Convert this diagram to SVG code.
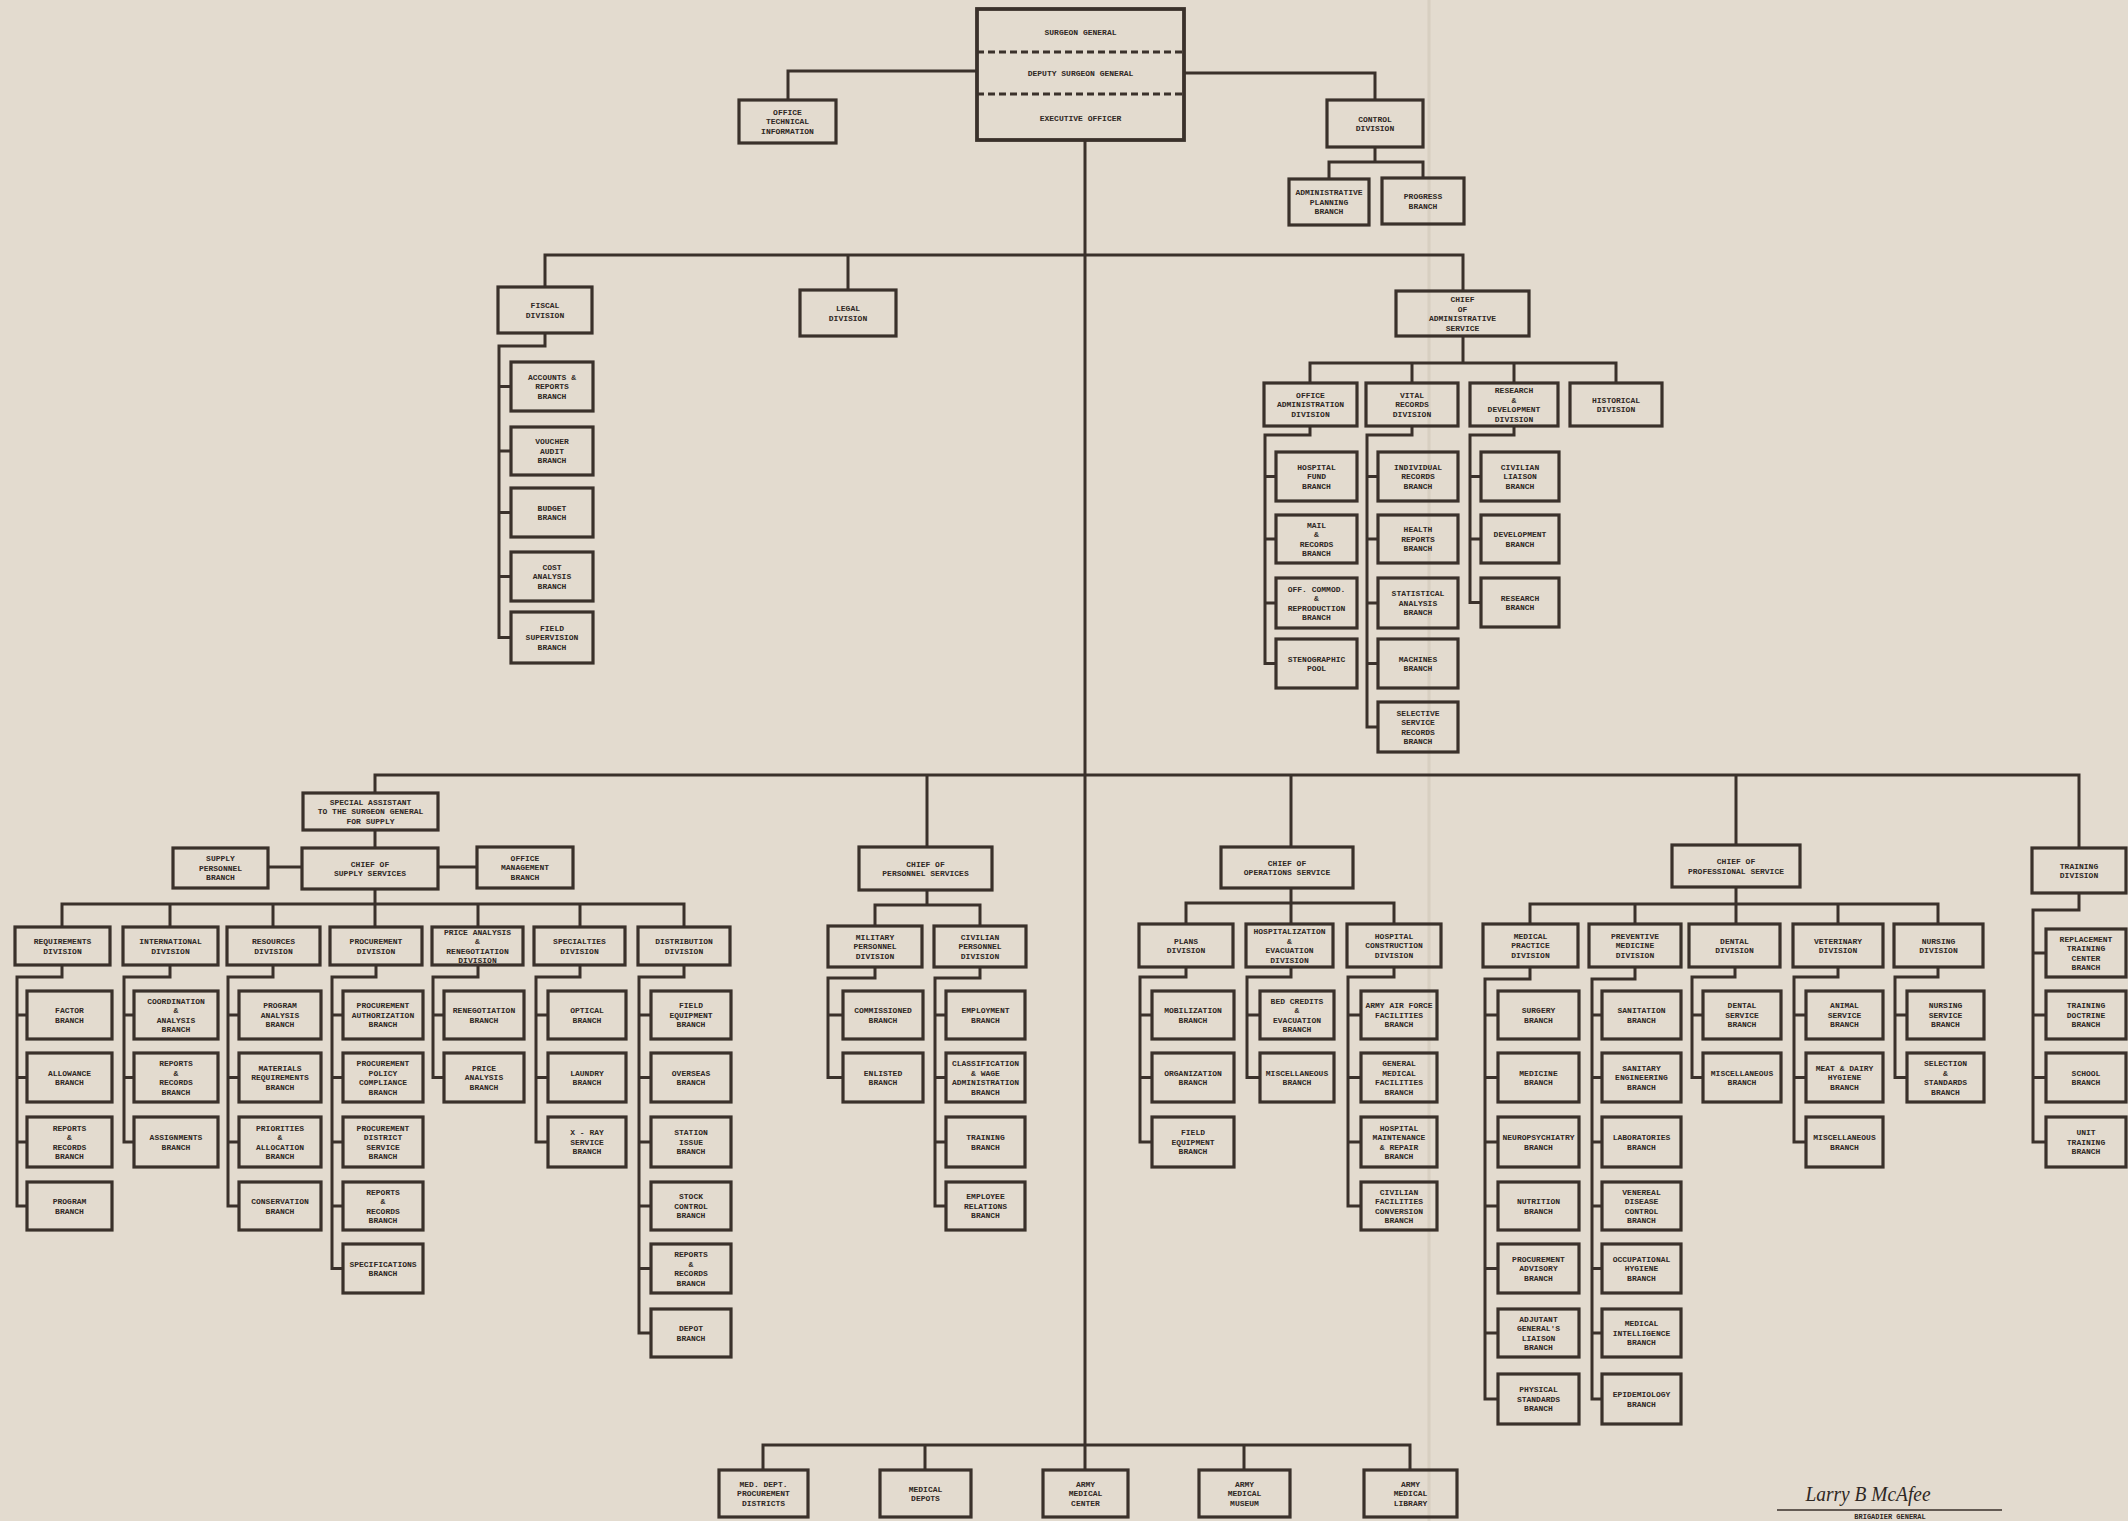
<svg xmlns="http://www.w3.org/2000/svg" width="2128" height="1521" viewBox="0 0 2128 1521">
<style>
.b{fill:none;stroke:#3a312b;stroke-width:3.2}
.c{fill:none;stroke:#3a312b;stroke-width:3}
.t{font-family:"Liberation Mono","DejaVu Sans Mono",monospace;font-size:8px;font-weight:700;fill:#2f2824;text-anchor:middle}
.sig{font-family:"Liberation Serif","DejaVu Serif",serif;font-style:italic;font-size:22px;fill:#2f2824;text-anchor:middle}
</style>
<rect x="0" y="0" width="2128" height="1521" fill="#e3dbcf"/>
<line x1="1429" y1="0" x2="1429" y2="1521" stroke="#d3cabc" stroke-width="3" opacity="0.7"/>

<g id="connectors">
<path class="c" d="M1085,140 V1470 M977,71 H788 V100 M1184,73 H1375 V100 M1375,147 V162 M1329,179 V162 H1423 V178"/>
<path class="c" d="M545,287 V255 H1463 V291 M848,255 V290 M545,333 V346 H499 V637.5 H511 M499,386.5 H511 M499,451 H511 M499,512.5 H511 M499,576.5 H511"/>
<path class="c" d="M1463,336 V363 M1310,383 V363 H1616 V383 M1412,363 V383 M1514,363 V383 M1310,426 V435 H1265 V663.5 H1276 M1265,476.5 H1276 M1265,539 H1276 M1265,603 H1276 M1412,426 V435 H1367 V727 H1378 M1367,476.5 H1378 M1367,539 H1378 M1367,603 H1378 M1367,663.5 H1378 M1514,426 V435 H1470 V602.5 H1481 M1470,476.5 H1481 M1470,539 H1481"/>
<path class="c" d="M375,793 V775 H2079 V848 M927,775 V847 M1291,775 V847 M1736,775 V845"/>
<path class="c" d="M375,830 V848 M268,867 H302 M438,867 H477 M375,889 V904 M62,927 V904 H684 V927 M170,904 V927 M273,904 V927 M375,904 V927 M478,904 V927 M580,904 V927"/>
<path class="c" d="M62,965 V977 H17 V1206 H27 M17,1015 H27 M17,1077.5 H27 M17,1142 H27 M170,965 V977 H124 V1142 H134 M124,1015 H134 M124,1077.5 H134 M273,965 V977 H228 V1206 H239 M228,1015 H239 M228,1077.5 H239 M228,1142 H239 M376,965 V977 H332 V1268.5 H343 M332,1015 H343 M332,1077.5 H343 M332,1142 H343 M332,1206 H343 M478,965 V977 H433 V1077.5 H444 M433,1015 H444 M580,965 V977 H536 V1142 H548 M536,1015 H548 M536,1077.5 H548 M684,965 V977 H639 V1333 H651 M639,1015 H651 M639,1077.5 H651 M639,1142 H651 M639,1206 H651 M639,1268.5 H651"/>
<path class="c" d="M927,890 V905 M875,926 V905 H980 V926 M875,967 V978 H828 V1077.5 H843 M828,1015 H843 M980,967 V978 H935 V1206 H946 M935,1015 H946 M935,1077.5 H946 M935,1142 H946"/>
<path class="c" d="M1291,888 V903 M1186,924 V903 H1394 V924 M1291,903 V924 M1186,967 V977 H1140 V1142 H1152 M1140,1015 H1152 M1140,1077.5 H1152 M1291,967 V977 H1247 V1077.5 H1260 M1247,1015 H1260 M1394,967 V977 H1348 V1206 H1361 M1348,1015 H1361 M1348,1077.5 H1361 M1348,1142 H1361"/>
<path class="c" d="M1736,887 V904 M1530,924 V904 H1938 V924 M1635,904 V924 M1736,904 V924 M1838,904 V924 M1530,967 V979 H1485 V1399 H1498 M1485,1015 H1498 M1485,1077.5 H1498 M1485,1142 H1498 M1485,1206 H1498 M1485,1268.5 H1498 M1485,1333 H1498 M1635,967 V979 H1592 V1399 H1602 M1592,1015 H1602 M1592,1077.5 H1602 M1592,1142 H1602 M1592,1206 H1602 M1592,1268.5 H1602 M1592,1333 H1602 M1735,967 V977 H1692 V1077.5 H1703 M1692,1015 H1703 M1838,967 V977 H1794 V1142 H1806 M1794,1015 H1806 M1794,1077.5 H1806 M1938,967 V977 H1895 V1077.5 H1907 M1895,1015 H1907"/>
<path class="c" d="M2079,893 V910 H2033 V1142 H2046 M2033,953 H2046 M2033,1015 H2046 M2033,1077.5 H2046"/>
<path class="c" d="M763,1470 V1445 H1410 V1470 M925,1445 V1470 M1244,1445 V1470"/>
</g>

<g id="surgeon-general"><rect x="977" y="9" width="207" height="131" fill="none" stroke="#3a312b" stroke-width="3.8"/>
<path d="M977,52 H1184 M977,94 H1184" stroke="#3a312b" stroke-width="3" stroke-dasharray="7,4"/>
<text class="t" x="1080.5" y="34.8">SURGEON GENERAL</text>
<text class="t" x="1080.5" y="75.8">DEPUTY SURGEON GENERAL</text>
<text class="t" x="1080.5" y="120.8">EXECUTIVE OFFICER</text></g>
<g id="office-technical-information"><rect class="b" x="739" y="100" width="97" height="43"/><text class="t" y="114.8"><tspan x="787.5">OFFICE</tspan><tspan x="787.5" dy="9.5">TECHNICAL</tspan><tspan x="787.5" dy="9.5">INFORMATION</tspan></text></g>
<g id="control-division"><rect class="b" x="1327" y="100" width="96" height="47"/><text class="t" y="121.6"><tspan x="1375">CONTROL</tspan><tspan x="1375" dy="9.5">DIVISION</tspan></text></g>
<g id="administrative-planning-branch"><rect class="b" x="1289" y="179" width="80" height="46"/><text class="t" y="195.3"><tspan x="1329">ADMINISTRATIVE</tspan><tspan x="1329" dy="9.5">PLANNING</tspan><tspan x="1329" dy="9.5">BRANCH</tspan></text></g>
<g id="progress-branch"><rect class="b" x="1382" y="178" width="82" height="46"/><text class="t" y="199.1"><tspan x="1423">PROGRESS</tspan><tspan x="1423" dy="9.5">BRANCH</tspan></text></g>

<g id="fiscal-division"><rect class="b" x="498" y="287" width="94" height="46"/><text class="t" y="308.1"><tspan x="545">FISCAL</tspan><tspan x="545" dy="9.5">DIVISION</tspan></text></g>
<g id="legal-division"><rect class="b" x="800" y="290" width="96" height="46"/><text class="t" y="311.1"><tspan x="848">LEGAL</tspan><tspan x="848" dy="9.5">DIVISION</tspan></text></g>
<g id="chief-administrative-service"><rect class="b" x="1396" y="291" width="133" height="45"/><text class="t" y="302.1"><tspan x="1462.5">CHIEF</tspan><tspan x="1462.5" dy="9.5">OF</tspan><tspan x="1462.5" dy="9.5">ADMINISTRATIVE</tspan><tspan x="1462.5" dy="9.5">SERVICE</tspan></text></g>
<g id="accounts-reports-branch"><rect class="b" x="511" y="362" width="82" height="49"/><text class="t" y="379.8"><tspan x="552">ACCOUNTS &amp;</tspan><tspan x="552" dy="9.5">REPORTS</tspan><tspan x="552" dy="9.5">BRANCH</tspan></text></g>
<g id="voucher-audit-branch"><rect class="b" x="511" y="427" width="82" height="48"/><text class="t" y="444.3"><tspan x="552">VOUCHER</tspan><tspan x="552" dy="9.5">AUDIT</tspan><tspan x="552" dy="9.5">BRANCH</tspan></text></g>
<g id="budget-branch"><rect class="b" x="511" y="488" width="82" height="49"/><text class="t" y="510.6"><tspan x="552">BUDGET</tspan><tspan x="552" dy="9.5">BRANCH</tspan></text></g>
<g id="cost-analysis-branch"><rect class="b" x="511" y="552" width="82" height="49"/><text class="t" y="569.8"><tspan x="552">COST</tspan><tspan x="552" dy="9.5">ANALYSIS</tspan><tspan x="552" dy="9.5">BRANCH</tspan></text></g>
<g id="field-supervision-branch"><rect class="b" x="511" y="612" width="82" height="51"/><text class="t" y="630.8"><tspan x="552">FIELD</tspan><tspan x="552" dy="9.5">SUPERVISION</tspan><tspan x="552" dy="9.5">BRANCH</tspan></text></g>

<g id="office-administration-division"><rect class="b" x="1264" y="383" width="93" height="43"/><text class="t" y="397.8"><tspan x="1310.5">OFFICE</tspan><tspan x="1310.5" dy="9.5">ADMINISTRATION</tspan><tspan x="1310.5" dy="9.5">DIVISION</tspan></text></g>
<g id="vital-records-division"><rect class="b" x="1366" y="383" width="92" height="43"/><text class="t" y="397.8"><tspan x="1412">VITAL</tspan><tspan x="1412" dy="9.5">RECORDS</tspan><tspan x="1412" dy="9.5">DIVISION</tspan></text></g>
<g id="research-development-division"><rect class="b" x="1470" y="383" width="88" height="43"/><text class="t" y="393.1"><tspan x="1514">RESEARCH</tspan><tspan x="1514" dy="9.5">&amp;</tspan><tspan x="1514" dy="9.5">DEVELOPMENT</tspan><tspan x="1514" dy="9.5">DIVISION</tspan></text></g>
<g id="historical-division"><rect class="b" x="1570" y="383" width="92" height="43"/><text class="t" y="402.6"><tspan x="1616">HISTORICAL</tspan><tspan x="1616" dy="9.5">DIVISION</tspan></text></g>
<g id="hospital-fund-branch"><rect class="b" x="1276" y="452" width="81" height="49"/><text class="t" y="469.8"><tspan x="1316.5">HOSPITAL</tspan><tspan x="1316.5" dy="9.5">FUND</tspan><tspan x="1316.5" dy="9.5">BRANCH</tspan></text></g>
<g id="mail-records-branch"><rect class="b" x="1276" y="515" width="81" height="48"/><text class="t" y="527.6"><tspan x="1316.5">MAIL</tspan><tspan x="1316.5" dy="9.5">&amp;</tspan><tspan x="1316.5" dy="9.5">RECORDS</tspan><tspan x="1316.5" dy="9.5">BRANCH</tspan></text></g>
<g id="off-commod-reproduction-branch"><rect class="b" x="1276" y="578" width="81" height="50"/><text class="t" y="591.6"><tspan x="1316.5">OFF. COMMOD.</tspan><tspan x="1316.5" dy="9.5">&amp;</tspan><tspan x="1316.5" dy="9.5">REPRODUCTION</tspan><tspan x="1316.5" dy="9.5">BRANCH</tspan></text></g>
<g id="stenographic-pool"><rect class="b" x="1276" y="639" width="81" height="49"/><text class="t" y="661.6"><tspan x="1316.5">STENOGRAPHIC</tspan><tspan x="1316.5" dy="9.5">POOL</tspan></text></g>
<g id="individual-records-branch"><rect class="b" x="1378" y="452" width="80" height="49"/><text class="t" y="469.8"><tspan x="1418">INDIVIDUAL</tspan><tspan x="1418" dy="9.5">RECORDS</tspan><tspan x="1418" dy="9.5">BRANCH</tspan></text></g>
<g id="health-reports-branch"><rect class="b" x="1378" y="515" width="80" height="48"/><text class="t" y="532.3"><tspan x="1418">HEALTH</tspan><tspan x="1418" dy="9.5">REPORTS</tspan><tspan x="1418" dy="9.5">BRANCH</tspan></text></g>
<g id="statistical-analysis-branch"><rect class="b" x="1378" y="578" width="80" height="50"/><text class="t" y="596.3"><tspan x="1418">STATISTICAL</tspan><tspan x="1418" dy="9.5">ANALYSIS</tspan><tspan x="1418" dy="9.5">BRANCH</tspan></text></g>
<g id="machines-branch"><rect class="b" x="1378" y="639" width="80" height="49"/><text class="t" y="661.6"><tspan x="1418">MACHINES</tspan><tspan x="1418" dy="9.5">BRANCH</tspan></text></g>
<g id="selective-service-records-branch"><rect class="b" x="1378" y="702" width="80" height="50"/><text class="t" y="715.6"><tspan x="1418">SELECTIVE</tspan><tspan x="1418" dy="9.5">SERVICE</tspan><tspan x="1418" dy="9.5">RECORDS</tspan><tspan x="1418" dy="9.5">BRANCH</tspan></text></g>
<g id="civilian-liaison-branch"><rect class="b" x="1481" y="452" width="78" height="49"/><text class="t" y="469.8"><tspan x="1520">CIVILIAN</tspan><tspan x="1520" dy="9.5">LIAISON</tspan><tspan x="1520" dy="9.5">BRANCH</tspan></text></g>
<g id="development-branch"><rect class="b" x="1481" y="515" width="78" height="48"/><text class="t" y="537.1"><tspan x="1520">DEVELOPMENT</tspan><tspan x="1520" dy="9.5">BRANCH</tspan></text></g>
<g id="research-branch"><rect class="b" x="1481" y="578" width="78" height="49"/><text class="t" y="600.6"><tspan x="1520">RESEARCH</tspan><tspan x="1520" dy="9.5">BRANCH</tspan></text></g>

<g id="special-assistant-supply"><rect class="b" x="303" y="793" width="135" height="37"/><text class="t" y="804.8"><tspan x="370.5">SPECIAL ASSISTANT</tspan><tspan x="370.5" dy="9.5">TO THE SURGEON GENERAL</tspan><tspan x="370.5" dy="9.5">FOR SUPPLY</tspan></text></g>
<g id="chief-supply-services"><rect class="b" x="302" y="848" width="136" height="41"/><text class="t" y="866.6"><tspan x="370">CHIEF OF</tspan><tspan x="370" dy="9.5">SUPPLY SERVICES</tspan></text></g>
<g id="supply-personnel-branch"><rect class="b" x="173" y="848" width="95" height="40"/><text class="t" y="861.3"><tspan x="220.5">SUPPLY</tspan><tspan x="220.5" dy="9.5">PERSONNEL</tspan><tspan x="220.5" dy="9.5">BRANCH</tspan></text></g>
<g id="office-management-branch"><rect class="b" x="477" y="847" width="96" height="41"/><text class="t" y="860.8"><tspan x="525">OFFICE</tspan><tspan x="525" dy="9.5">MANAGEMENT</tspan><tspan x="525" dy="9.5">BRANCH</tspan></text></g>
<g id="requirements-division"><rect class="b" x="15" y="927" width="95" height="38"/><text class="t" y="944.1"><tspan x="62.5">REQUIREMENTS</tspan><tspan x="62.5" dy="9.5">DIVISION</tspan></text></g>
<g id="international-division"><rect class="b" x="123" y="927" width="95" height="38"/><text class="t" y="944.1"><tspan x="170.5">INTERNATIONAL</tspan><tspan x="170.5" dy="9.5">DIVISION</tspan></text></g>
<g id="resources-division"><rect class="b" x="227" y="927" width="93" height="38"/><text class="t" y="944.1"><tspan x="273.5">RESOURCES</tspan><tspan x="273.5" dy="9.5">DIVISION</tspan></text></g>
<g id="procurement-division"><rect class="b" x="330" y="927" width="92" height="38"/><text class="t" y="944.1"><tspan x="376">PROCUREMENT</tspan><tspan x="376" dy="9.5">DIVISION</tspan></text></g>
<g id="price-analysis-renegotiation-division"><rect class="b" x="432" y="927" width="91" height="38"/><text class="t" y="934.6"><tspan x="477.5">PRICE ANALYSIS</tspan><tspan x="477.5" dy="9.5">&amp;</tspan><tspan x="477.5" dy="9.5">RENEGOTIATION</tspan><tspan x="477.5" dy="9.5">DIVISION</tspan></text></g>
<g id="specialties-division"><rect class="b" x="534" y="927" width="91" height="38"/><text class="t" y="944.1"><tspan x="579.5">SPECIALTIES</tspan><tspan x="579.5" dy="9.5">DIVISION</tspan></text></g>
<g id="distribution-division"><rect class="b" x="638" y="927" width="92" height="38"/><text class="t" y="944.1"><tspan x="684">DISTRIBUTION</tspan><tspan x="684" dy="9.5">DIVISION</tspan></text></g>

<g id="factor-branch"><rect class="b" x="27" y="991" width="85" height="48"/><text class="t" y="1013.1"><tspan x="69.5">FACTOR</tspan><tspan x="69.5" dy="9.5">BRANCH</tspan></text></g>
<g id="allowance-branch"><rect class="b" x="27" y="1053" width="85" height="49"/><text class="t" y="1075.6"><tspan x="69.5">ALLOWANCE</tspan><tspan x="69.5" dy="9.5">BRANCH</tspan></text></g>
<g id="req-reports-records-branch"><rect class="b" x="27" y="1117" width="85" height="50"/><text class="t" y="1130.6"><tspan x="69.5">REPORTS</tspan><tspan x="69.5" dy="9.5">&amp;</tspan><tspan x="69.5" dy="9.5">RECORDS</tspan><tspan x="69.5" dy="9.5">BRANCH</tspan></text></g>
<g id="program-branch"><rect class="b" x="27" y="1182" width="85" height="48"/><text class="t" y="1204.1"><tspan x="69.5">PROGRAM</tspan><tspan x="69.5" dy="9.5">BRANCH</tspan></text></g>
<g id="coordination-analysis-branch"><rect class="b" x="134" y="991" width="84" height="48"/><text class="t" y="1003.6"><tspan x="176">COORDINATION</tspan><tspan x="176" dy="9.5">&amp;</tspan><tspan x="176" dy="9.5">ANALYSIS</tspan><tspan x="176" dy="9.5">BRANCH</tspan></text></g>
<g id="int-reports-records-branch"><rect class="b" x="134" y="1053" width="84" height="49"/><text class="t" y="1066.1"><tspan x="176">REPORTS</tspan><tspan x="176" dy="9.5">&amp;</tspan><tspan x="176" dy="9.5">RECORDS</tspan><tspan x="176" dy="9.5">BRANCH</tspan></text></g>
<g id="assignments-branch"><rect class="b" x="134" y="1117" width="84" height="50"/><text class="t" y="1140.1"><tspan x="176">ASSIGNMENTS</tspan><tspan x="176" dy="9.5">BRANCH</tspan></text></g>
<g id="program-analysis-branch"><rect class="b" x="239" y="991" width="82" height="48"/><text class="t" y="1008.3"><tspan x="280">PROGRAM</tspan><tspan x="280" dy="9.5">ANALYSIS</tspan><tspan x="280" dy="9.5">BRANCH</tspan></text></g>
<g id="materials-requirements-branch"><rect class="b" x="239" y="1053" width="82" height="49"/><text class="t" y="1070.8"><tspan x="280">MATERIALS</tspan><tspan x="280" dy="9.5">REQUIREMENTS</tspan><tspan x="280" dy="9.5">BRANCH</tspan></text></g>
<g id="priorities-allocation-branch"><rect class="b" x="239" y="1117" width="82" height="50"/><text class="t" y="1130.6"><tspan x="280">PRIORITIES</tspan><tspan x="280" dy="9.5">&amp;</tspan><tspan x="280" dy="9.5">ALLOCATION</tspan><tspan x="280" dy="9.5">BRANCH</tspan></text></g>
<g id="conservation-branch"><rect class="b" x="239" y="1182" width="82" height="48"/><text class="t" y="1204.1"><tspan x="280">CONSERVATION</tspan><tspan x="280" dy="9.5">BRANCH</tspan></text></g>
<g id="procurement-authorization-branch"><rect class="b" x="343" y="991" width="80" height="48"/><text class="t" y="1008.3"><tspan x="383">PROCUREMENT</tspan><tspan x="383" dy="9.5">AUTHORIZATION</tspan><tspan x="383" dy="9.5">BRANCH</tspan></text></g>
<g id="procurement-policy-compliance-branch"><rect class="b" x="343" y="1053" width="80" height="49"/><text class="t" y="1066.1"><tspan x="383">PROCUREMENT</tspan><tspan x="383" dy="9.5">POLICY</tspan><tspan x="383" dy="9.5">COMPLIANCE</tspan><tspan x="383" dy="9.5">BRANCH</tspan></text></g>
<g id="procurement-district-service-branch"><rect class="b" x="343" y="1117" width="80" height="50"/><text class="t" y="1130.6"><tspan x="383">PROCUREMENT</tspan><tspan x="383" dy="9.5">DISTRICT</tspan><tspan x="383" dy="9.5">SERVICE</tspan><tspan x="383" dy="9.5">BRANCH</tspan></text></g>
<g id="proc-reports-records-branch"><rect class="b" x="343" y="1182" width="80" height="48"/><text class="t" y="1194.6"><tspan x="383">REPORTS</tspan><tspan x="383" dy="9.5">&amp;</tspan><tspan x="383" dy="9.5">RECORDS</tspan><tspan x="383" dy="9.5">BRANCH</tspan></text></g>
<g id="specifications-branch"><rect class="b" x="343" y="1244" width="80" height="49"/><text class="t" y="1266.6"><tspan x="383">SPECIFICATIONS</tspan><tspan x="383" dy="9.5">BRANCH</tspan></text></g>
<g id="renegotiation-branch"><rect class="b" x="444" y="991" width="80" height="48"/><text class="t" y="1013.1"><tspan x="484">RENEGOTIATION</tspan><tspan x="484" dy="9.5">BRANCH</tspan></text></g>
<g id="price-analysis-branch"><rect class="b" x="444" y="1053" width="80" height="49"/><text class="t" y="1070.8"><tspan x="484">PRICE</tspan><tspan x="484" dy="9.5">ANALYSIS</tspan><tspan x="484" dy="9.5">BRANCH</tspan></text></g>
<g id="optical-branch"><rect class="b" x="548" y="991" width="78" height="48"/><text class="t" y="1013.1"><tspan x="587">OPTICAL</tspan><tspan x="587" dy="9.5">BRANCH</tspan></text></g>
<g id="laundry-branch"><rect class="b" x="548" y="1053" width="78" height="49"/><text class="t" y="1075.6"><tspan x="587">LAUNDRY</tspan><tspan x="587" dy="9.5">BRANCH</tspan></text></g>
<g id="x-ray-service-branch"><rect class="b" x="548" y="1117" width="78" height="50"/><text class="t" y="1135.3"><tspan x="587">X - RAY</tspan><tspan x="587" dy="9.5">SERVICE</tspan><tspan x="587" dy="9.5">BRANCH</tspan></text></g>
<g id="dist-field-equipment-branch"><rect class="b" x="651" y="991" width="80" height="48"/><text class="t" y="1008.3"><tspan x="691">FIELD</tspan><tspan x="691" dy="9.5">EQUIPMENT</tspan><tspan x="691" dy="9.5">BRANCH</tspan></text></g>
<g id="overseas-branch"><rect class="b" x="651" y="1053" width="80" height="49"/><text class="t" y="1075.6"><tspan x="691">OVERSEAS</tspan><tspan x="691" dy="9.5">BRANCH</tspan></text></g>
<g id="station-issue-branch"><rect class="b" x="651" y="1117" width="80" height="50"/><text class="t" y="1135.3"><tspan x="691">STATION</tspan><tspan x="691" dy="9.5">ISSUE</tspan><tspan x="691" dy="9.5">BRANCH</tspan></text></g>
<g id="stock-control-branch"><rect class="b" x="651" y="1182" width="80" height="48"/><text class="t" y="1199.3"><tspan x="691">STOCK</tspan><tspan x="691" dy="9.5">CONTROL</tspan><tspan x="691" dy="9.5">BRANCH</tspan></text></g>
<g id="dist-reports-records-branch"><rect class="b" x="651" y="1244" width="80" height="49"/><text class="t" y="1257.1"><tspan x="691">REPORTS</tspan><tspan x="691" dy="9.5">&amp;</tspan><tspan x="691" dy="9.5">RECORDS</tspan><tspan x="691" dy="9.5">BRANCH</tspan></text></g>
<g id="depot-branch"><rect class="b" x="651" y="1309" width="80" height="48"/><text class="t" y="1331.1"><tspan x="691">DEPOT</tspan><tspan x="691" dy="9.5">BRANCH</tspan></text></g>

<g id="chief-personnel-services"><rect class="b" x="859" y="847" width="133" height="43"/><text class="t" y="866.6"><tspan x="925.5">CHIEF OF</tspan><tspan x="925.5" dy="9.5">PERSONNEL SERVICES</tspan></text></g>
<g id="military-personnel-division"><rect class="b" x="828" y="926" width="94" height="41"/><text class="t" y="939.8"><tspan x="875">MILITARY</tspan><tspan x="875" dy="9.5">PERSONNEL</tspan><tspan x="875" dy="9.5">DIVISION</tspan></text></g>
<g id="civilian-personnel-division"><rect class="b" x="934" y="926" width="92" height="41"/><text class="t" y="939.8"><tspan x="980">CIVILIAN</tspan><tspan x="980" dy="9.5">PERSONNEL</tspan><tspan x="980" dy="9.5">DIVISION</tspan></text></g>
<g id="commissioned-branch"><rect class="b" x="843" y="991" width="80" height="48"/><text class="t" y="1013.1"><tspan x="883">COMMISSIONED</tspan><tspan x="883" dy="9.5">BRANCH</tspan></text></g>
<g id="enlisted-branch"><rect class="b" x="843" y="1053" width="80" height="49"/><text class="t" y="1075.6"><tspan x="883">ENLISTED</tspan><tspan x="883" dy="9.5">BRANCH</tspan></text></g>
<g id="employment-branch"><rect class="b" x="946" y="991" width="79" height="48"/><text class="t" y="1013.1"><tspan x="985.5">EMPLOYMENT</tspan><tspan x="985.5" dy="9.5">BRANCH</tspan></text></g>
<g id="classification-wage-branch"><rect class="b" x="946" y="1053" width="79" height="49"/><text class="t" y="1066.1"><tspan x="985.5">CLASSIFICATION</tspan><tspan x="985.5" dy="9.5">&amp; WAGE</tspan><tspan x="985.5" dy="9.5">ADMINISTRATION</tspan><tspan x="985.5" dy="9.5">BRANCH</tspan></text></g>
<g id="training-branch"><rect class="b" x="946" y="1117" width="79" height="50"/><text class="t" y="1140.1"><tspan x="985.5">TRAINING</tspan><tspan x="985.5" dy="9.5">BRANCH</tspan></text></g>
<g id="employee-relations-branch"><rect class="b" x="946" y="1182" width="79" height="48"/><text class="t" y="1199.3"><tspan x="985.5">EMPLOYEE</tspan><tspan x="985.5" dy="9.5">RELATIONS</tspan><tspan x="985.5" dy="9.5">BRANCH</tspan></text></g>

<g id="chief-operations-service"><rect class="b" x="1221" y="847" width="132" height="41"/><text class="t" y="865.6"><tspan x="1287">CHIEF OF</tspan><tspan x="1287" dy="9.5">OPERATIONS SERVICE</tspan></text></g>
<g id="plans-division"><rect class="b" x="1139" y="924" width="94" height="43"/><text class="t" y="943.6"><tspan x="1186">PLANS</tspan><tspan x="1186" dy="9.5">DIVISION</tspan></text></g>
<g id="hospitalization-evacuation-division"><rect class="b" x="1246" y="924" width="87" height="43"/><text class="t" y="934.1"><tspan x="1289.5">HOSPITALIZATION</tspan><tspan x="1289.5" dy="9.5">&amp;</tspan><tspan x="1289.5" dy="9.5">EVACUATION</tspan><tspan x="1289.5" dy="9.5">DIVISION</tspan></text></g>
<g id="hospital-construction-division"><rect class="b" x="1347" y="924" width="94" height="43"/><text class="t" y="938.8"><tspan x="1394">HOSPITAL</tspan><tspan x="1394" dy="9.5">CONSTRUCTION</tspan><tspan x="1394" dy="9.5">DIVISION</tspan></text></g>
<g id="mobilization-branch"><rect class="b" x="1152" y="991" width="82" height="48"/><text class="t" y="1013.1"><tspan x="1193">MOBILIZATION</tspan><tspan x="1193" dy="9.5">BRANCH</tspan></text></g>
<g id="organization-branch"><rect class="b" x="1152" y="1053" width="82" height="49"/><text class="t" y="1075.6"><tspan x="1193">ORGANIZATION</tspan><tspan x="1193" dy="9.5">BRANCH</tspan></text></g>
<g id="plans-field-equipment-branch"><rect class="b" x="1152" y="1117" width="82" height="50"/><text class="t" y="1135.3"><tspan x="1193">FIELD</tspan><tspan x="1193" dy="9.5">EQUIPMENT</tspan><tspan x="1193" dy="9.5">BRANCH</tspan></text></g>
<g id="bed-credits-evacuation-branch"><rect class="b" x="1260" y="991" width="74" height="48"/><text class="t" y="1003.6"><tspan x="1297">BED CREDITS</tspan><tspan x="1297" dy="9.5">&amp;</tspan><tspan x="1297" dy="9.5">EVACUATION</tspan><tspan x="1297" dy="9.5">BRANCH</tspan></text></g>
<g id="hosp-miscellaneous-branch"><rect class="b" x="1260" y="1053" width="74" height="49"/><text class="t" y="1075.6"><tspan x="1297">MISCELLANEOUS</tspan><tspan x="1297" dy="9.5">BRANCH</tspan></text></g>
<g id="army-air-force-facilities-branch"><rect class="b" x="1361" y="991" width="76" height="48"/><text class="t" y="1008.3"><tspan x="1399">ARMY AIR FORCE</tspan><tspan x="1399" dy="9.5">FACILITIES</tspan><tspan x="1399" dy="9.5">BRANCH</tspan></text></g>
<g id="general-medical-facilities-branch"><rect class="b" x="1361" y="1053" width="76" height="49"/><text class="t" y="1066.1"><tspan x="1399">GENERAL</tspan><tspan x="1399" dy="9.5">MEDICAL</tspan><tspan x="1399" dy="9.5">FACILITIES</tspan><tspan x="1399" dy="9.5">BRANCH</tspan></text></g>
<g id="hospital-maintenance-repair-branch"><rect class="b" x="1361" y="1117" width="76" height="50"/><text class="t" y="1130.6"><tspan x="1399">HOSPITAL</tspan><tspan x="1399" dy="9.5">MAINTENANCE</tspan><tspan x="1399" dy="9.5">&amp; REPAIR</tspan><tspan x="1399" dy="9.5">BRANCH</tspan></text></g>
<g id="civilian-facilities-conversion-branch"><rect class="b" x="1361" y="1182" width="76" height="48"/><text class="t" y="1194.6"><tspan x="1399">CIVILIAN</tspan><tspan x="1399" dy="9.5">FACILITIES</tspan><tspan x="1399" dy="9.5">CONVERSION</tspan><tspan x="1399" dy="9.5">BRANCH</tspan></text></g>

<g id="chief-professional-service"><rect class="b" x="1672" y="845" width="128" height="42"/><text class="t" y="864.1"><tspan x="1736">CHIEF OF</tspan><tspan x="1736" dy="9.5">PROFESSIONAL SERVICE</tspan></text></g>
<g id="medical-practice-division"><rect class="b" x="1483" y="924" width="95" height="43"/><text class="t" y="938.8"><tspan x="1530.5">MEDICAL</tspan><tspan x="1530.5" dy="9.5">PRACTICE</tspan><tspan x="1530.5" dy="9.5">DIVISION</tspan></text></g>
<g id="preventive-medicine-division"><rect class="b" x="1589" y="924" width="92" height="43"/><text class="t" y="938.8"><tspan x="1635">PREVENTIVE</tspan><tspan x="1635" dy="9.5">MEDICINE</tspan><tspan x="1635" dy="9.5">DIVISION</tspan></text></g>
<g id="dental-division"><rect class="b" x="1689" y="924" width="91" height="43"/><text class="t" y="943.6"><tspan x="1734.5">DENTAL</tspan><tspan x="1734.5" dy="9.5">DIVISION</tspan></text></g>
<g id="veterinary-division"><rect class="b" x="1793" y="924" width="90" height="43"/><text class="t" y="943.6"><tspan x="1838">VETERINARY</tspan><tspan x="1838" dy="9.5">DIVISION</tspan></text></g>
<g id="nursing-division"><rect class="b" x="1894" y="924" width="89" height="43"/><text class="t" y="943.6"><tspan x="1938.5">NURSING</tspan><tspan x="1938.5" dy="9.5">DIVISION</tspan></text></g>
<g id="surgery-branch"><rect class="b" x="1498" y="991" width="81" height="48"/><text class="t" y="1013.1"><tspan x="1538.5">SURGERY</tspan><tspan x="1538.5" dy="9.5">BRANCH</tspan></text></g>
<g id="medicine-branch"><rect class="b" x="1498" y="1053" width="81" height="49"/><text class="t" y="1075.6"><tspan x="1538.5">MEDICINE</tspan><tspan x="1538.5" dy="9.5">BRANCH</tspan></text></g>
<g id="neuropsychiatry-branch"><rect class="b" x="1498" y="1117" width="81" height="50"/><text class="t" y="1140.1"><tspan x="1538.5">NEUROPSYCHIATRY</tspan><tspan x="1538.5" dy="9.5">BRANCH</tspan></text></g>
<g id="nutrition-branch"><rect class="b" x="1498" y="1182" width="81" height="48"/><text class="t" y="1204.1"><tspan x="1538.5">NUTRITION</tspan><tspan x="1538.5" dy="9.5">BRANCH</tspan></text></g>
<g id="procurement-advisory-branch"><rect class="b" x="1498" y="1244" width="81" height="49"/><text class="t" y="1261.8"><tspan x="1538.5">PROCUREMENT</tspan><tspan x="1538.5" dy="9.5">ADVISORY</tspan><tspan x="1538.5" dy="9.5">BRANCH</tspan></text></g>
<g id="adjutant-generals-liaison-branch"><rect class="b" x="1498" y="1309" width="81" height="48"/><text class="t" y="1321.6"><tspan x="1538.5">ADJUTANT</tspan><tspan x="1538.5" dy="9.5">GENERAL'S</tspan><tspan x="1538.5" dy="9.5">LIAISON</tspan><tspan x="1538.5" dy="9.5">BRANCH</tspan></text></g>
<g id="physical-standards-branch"><rect class="b" x="1498" y="1374" width="81" height="50"/><text class="t" y="1392.3"><tspan x="1538.5">PHYSICAL</tspan><tspan x="1538.5" dy="9.5">STANDARDS</tspan><tspan x="1538.5" dy="9.5">BRANCH</tspan></text></g>
<g id="sanitation-branch"><rect class="b" x="1602" y="991" width="79" height="48"/><text class="t" y="1013.1"><tspan x="1641.5">SANITATION</tspan><tspan x="1641.5" dy="9.5">BRANCH</tspan></text></g>
<g id="sanitary-engineering-branch"><rect class="b" x="1602" y="1053" width="79" height="49"/><text class="t" y="1070.8"><tspan x="1641.5">SANITARY</tspan><tspan x="1641.5" dy="9.5">ENGINEERING</tspan><tspan x="1641.5" dy="9.5">BRANCH</tspan></text></g>
<g id="laboratories-branch"><rect class="b" x="1602" y="1117" width="79" height="50"/><text class="t" y="1140.1"><tspan x="1641.5">LABORATORIES</tspan><tspan x="1641.5" dy="9.5">BRANCH</tspan></text></g>
<g id="venereal-disease-control-branch"><rect class="b" x="1602" y="1182" width="79" height="48"/><text class="t" y="1194.6"><tspan x="1641.5">VENEREAL</tspan><tspan x="1641.5" dy="9.5">DISEASE</tspan><tspan x="1641.5" dy="9.5">CONTROL</tspan><tspan x="1641.5" dy="9.5">BRANCH</tspan></text></g>
<g id="occupational-hygiene-branch"><rect class="b" x="1602" y="1244" width="79" height="49"/><text class="t" y="1261.8"><tspan x="1641.5">OCCUPATIONAL</tspan><tspan x="1641.5" dy="9.5">HYGIENE</tspan><tspan x="1641.5" dy="9.5">BRANCH</tspan></text></g>
<g id="medical-intelligence-branch"><rect class="b" x="1602" y="1309" width="79" height="48"/><text class="t" y="1326.3"><tspan x="1641.5">MEDICAL</tspan><tspan x="1641.5" dy="9.5">INTELLIGENCE</tspan><tspan x="1641.5" dy="9.5">BRANCH</tspan></text></g>
<g id="epidemiology-branch"><rect class="b" x="1602" y="1374" width="79" height="50"/><text class="t" y="1397.1"><tspan x="1641.5">EPIDEMIOLOGY</tspan><tspan x="1641.5" dy="9.5">BRANCH</tspan></text></g>
<g id="dental-service-branch"><rect class="b" x="1703" y="991" width="78" height="48"/><text class="t" y="1008.3"><tspan x="1742">DENTAL</tspan><tspan x="1742" dy="9.5">SERVICE</tspan><tspan x="1742" dy="9.5">BRANCH</tspan></text></g>
<g id="dental-miscellaneous-branch"><rect class="b" x="1703" y="1053" width="78" height="49"/><text class="t" y="1075.6"><tspan x="1742">MISCELLANEOUS</tspan><tspan x="1742" dy="9.5">BRANCH</tspan></text></g>
<g id="animal-service-branch"><rect class="b" x="1806" y="991" width="77" height="48"/><text class="t" y="1008.3"><tspan x="1844.5">ANIMAL</tspan><tspan x="1844.5" dy="9.5">SERVICE</tspan><tspan x="1844.5" dy="9.5">BRANCH</tspan></text></g>
<g id="meat-dairy-hygiene-branch"><rect class="b" x="1806" y="1053" width="77" height="49"/><text class="t" y="1070.8"><tspan x="1844.5">MEAT &amp; DAIRY</tspan><tspan x="1844.5" dy="9.5">HYGIENE</tspan><tspan x="1844.5" dy="9.5">BRANCH</tspan></text></g>
<g id="vet-miscellaneous-branch"><rect class="b" x="1806" y="1117" width="77" height="50"/><text class="t" y="1140.1"><tspan x="1844.5">MISCELLANEOUS</tspan><tspan x="1844.5" dy="9.5">BRANCH</tspan></text></g>
<g id="nursing-service-branch"><rect class="b" x="1907" y="991" width="77" height="48"/><text class="t" y="1008.3"><tspan x="1945.5">NURSING</tspan><tspan x="1945.5" dy="9.5">SERVICE</tspan><tspan x="1945.5" dy="9.5">BRANCH</tspan></text></g>
<g id="selection-standards-branch"><rect class="b" x="1907" y="1053" width="77" height="49"/><text class="t" y="1066.1"><tspan x="1945.5">SELECTION</tspan><tspan x="1945.5" dy="9.5">&amp;</tspan><tspan x="1945.5" dy="9.5">STANDARDS</tspan><tspan x="1945.5" dy="9.5">BRANCH</tspan></text></g>

<g id="training-division"><rect class="b" x="2032" y="848" width="94" height="45"/><text class="t" y="868.6"><tspan x="2079">TRAINING</tspan><tspan x="2079" dy="9.5">DIVISION</tspan></text></g>
<g id="replacement-training-center-branch"><rect class="b" x="2046" y="929" width="80" height="48"/><text class="t" y="941.6"><tspan x="2086">REPLACEMENT</tspan><tspan x="2086" dy="9.5">TRAINING</tspan><tspan x="2086" dy="9.5">CENTER</tspan><tspan x="2086" dy="9.5">BRANCH</tspan></text></g>
<g id="training-doctrine-branch"><rect class="b" x="2046" y="991" width="80" height="48"/><text class="t" y="1008.3"><tspan x="2086">TRAINING</tspan><tspan x="2086" dy="9.5">DOCTRINE</tspan><tspan x="2086" dy="9.5">BRANCH</tspan></text></g>
<g id="school-branch"><rect class="b" x="2046" y="1053" width="80" height="49"/><text class="t" y="1075.6"><tspan x="2086">SCHOOL</tspan><tspan x="2086" dy="9.5">BRANCH</tspan></text></g>
<g id="unit-training-branch"><rect class="b" x="2046" y="1117" width="80" height="50"/><text class="t" y="1135.3"><tspan x="2086">UNIT</tspan><tspan x="2086" dy="9.5">TRAINING</tspan><tspan x="2086" dy="9.5">BRANCH</tspan></text></g>

<g id="med-dept-procurement-districts"><rect class="b" x="719" y="1470" width="89" height="47"/><text class="t" y="1486.8"><tspan x="763.5">MED. DEPT.</tspan><tspan x="763.5" dy="9.5">PROCUREMENT</tspan><tspan x="763.5" dy="9.5">DISTRICTS</tspan></text></g>
<g id="medical-depots"><rect class="b" x="880" y="1470" width="91" height="47"/><text class="t" y="1491.6"><tspan x="925.5">MEDICAL</tspan><tspan x="925.5" dy="9.5">DEPOTS</tspan></text></g>
<g id="army-medical-center"><rect class="b" x="1043" y="1470" width="85" height="47"/><text class="t" y="1486.8"><tspan x="1085.5">ARMY</tspan><tspan x="1085.5" dy="9.5">MEDICAL</tspan><tspan x="1085.5" dy="9.5">CENTER</tspan></text></g>
<g id="army-medical-museum"><rect class="b" x="1199" y="1470" width="91" height="47"/><text class="t" y="1486.8"><tspan x="1244.5">ARMY</tspan><tspan x="1244.5" dy="9.5">MEDICAL</tspan><tspan x="1244.5" dy="9.5">MUSEUM</tspan></text></g>
<g id="army-medical-library"><rect class="b" x="1364" y="1470" width="93" height="47"/><text class="t" y="1486.8"><tspan x="1410.5">ARMY</tspan><tspan x="1410.5" dy="9.5">MEDICAL</tspan><tspan x="1410.5" dy="9.5">LIBRARY</tspan></text></g>

<g id="signature">
<text class="sig" x="1868" y="1501" textLength="125" lengthAdjust="spacingAndGlyphs">Larry B McAfee</text>
<line x1="1777" y1="1510" x2="2002" y2="1510" stroke="#3a312b" stroke-width="1.5"/>
<text class="t" x="1890" y="1519" style="font-size:7px">BRIGADIER GENERAL</text>
</g>
</svg>
